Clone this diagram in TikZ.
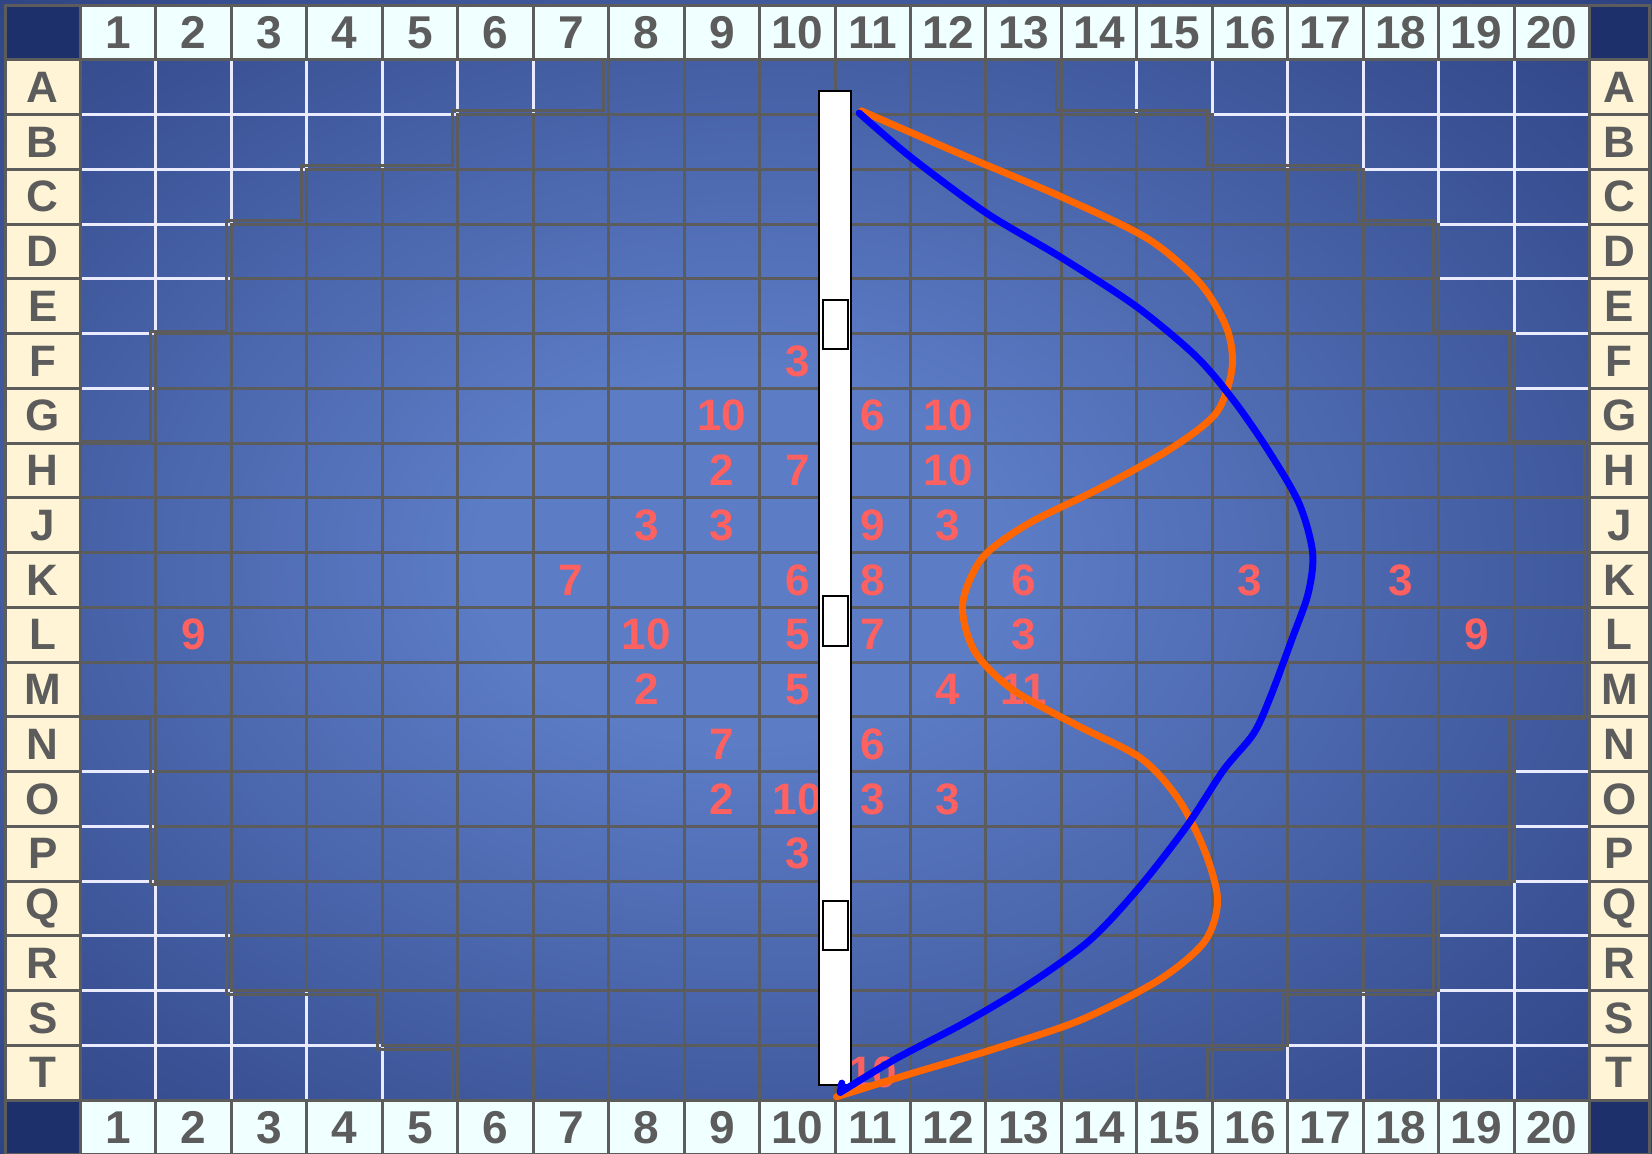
\documentclass[tikz,border=0pt]{standalone}
\usepackage{fontspec}
\setsansfont{Liberation Sans}

\definecolor{linegray}{RGB}{92,92,92}
\definecolor{headcyan}{RGB}{240,255,255}
\definecolor{headcream}{RGB}{255,245,214}
\definecolor{tallyred}{RGB}{255,96,96}
\definecolor{bgin}{RGB}{92,124,198}
\definecolor{bgout}{RGB}{26,42,102}
\definecolor{cornernavy}{RGB}{30,48,108}
\definecolor{pathorange}{RGB}{255,102,0}
\pgfdeclareradialshading{glow}{\pgfpoint{-3bp}{1bp}}{color(0bp)=(bgin); color(8bp)=(bgin); color(47bp)=(bgout); color(50bp)=(bgout)}

\begin{document}
\begin{tikzpicture}[x=37.725pt, y=-27.37pt,
	whitegrid/.style={draw=white!92!blue, line width=1.5pt},
	hullgrid/.style={draw=linegray, line width=1.5pt},
	colhead/.style={draw=linegray, fill=headcyan, line width=1.5pt, minimum width=37.725pt, minimum height=27.37pt, inner sep=0pt, text=linegray, font=\sffamily\bfseries\fontsize{23}{23}\selectfont},
	rowhead/.style={colhead, fill=headcream, font=\sffamily\bfseries\fontsize{22}{22}\selectfont},
	blankcell/.style={draw=linegray, fill=cornernavy, line width=1.5pt},
	tally/.style={text=tallyred, inner sep=0pt, font=\sffamily\bfseries\fontsize{22}{22}\selectfont},
	pole/.style={draw=black, fill=white, line width=1pt},
	trackline/.style={line width=3.5pt, line cap=round, line join=round}]
	\useasboundingbox (-1.067,-1.096) rectangle (20.828,19.967);
	\clip (-1.067,-1.096) rectangle (20.828,19.967);
	\shade[shading=glow] (-1.067,-1.096) rectangle (20.828,19.967);

	\foreach \col in {0,...,20}
		\draw[whitegrid] (\col,0) -- (\col,19);
	\foreach \row in {0,...,19}
		\draw[whitegrid] (0,\row) -- (20,\row);

	\foreach \row/\first/\last in {1/8/13, 2/6/15, 3/4/17, 4/3/18, 5/3/18, 6/2/19, 7/2/19, 8/1/20, 9/1/20, 10/1/20, 11/1/20, 12/1/20, 13/2/19, 14/2/19, 15/2/19, 16/3/18, 17/3/18, 18/5/16, 19/6/15}
		\foreach \col in {\first,...,\last}
			\draw[hullgrid] (\col-1,\row-1) rectangle (\col,\row);
	\begin{scope}[xshift=-2.5pt, shift={(0,9.5)}, yscale=1.01, shift={(0,-9.5)}]
		\draw[hullgrid] (7,0) -| (13,1) -| (15,2) -| (17,3) -| (18,5) -| (19,7) -| (20,12) -| (19,15) -| (18,17) -| (16,18) -| (15,19)
			-| (5,18) -| (4,17) -| (2,15) -| (1,12) -| (0,7) -| (1,5) -| (2,3) -| (3,2) -| (5,1) -| (7,0) -- cycle;
	\end{scope}

	\draw[blankcell] (-1,-1) rectangle (0,0);
	\draw[blankcell] (20,-1) rectangle (20.79,0);
	\draw[blankcell] (-1,19) rectangle (0,20);
	\draw[blankcell] (20,19) rectangle (20.79,20);
	\foreach \col in {1,...,20} {
		\node[colhead] (head\col) at (\col-0.5,-0.5) {\col};
		\node[colhead] (foot\col) at (\col-0.5,19.5) {\col};
	}
	\foreach \lab [count=\row] in {A,B,C,D,E,F,G,H,J,K,L,M,N,O,P,Q,R,S,T} {
		\node[rowhead] (left\lab) at (-0.5,\row-0.5) {\lab};
		\node[rowhead, minimum width=29.8pt] (right\lab) at (20.395,\row-0.5) {\lab};
	}

	\foreach \col/\row/\val [count=\idx] in {10/6/3, 9/7/10, 11/7/6, 12/7/10, 9/8/2, 10/8/7, 12/8/10, 8/9/3, 9/9/3, 11/9/9, 12/9/3,
		7/10/7, 10/10/6, 11/10/8, 13/10/6, 16/10/3, 18/10/3, 2/11/9, 8/11/10, 10/11/5, 11/11/7, 13/11/3, 19/11/9,
		8/12/2, 10/12/5, 12/12/4, 13/12/11, 9/13/7, 11/13/6, 9/14/2, 10/14/10, 11/14/3, 12/14/3, 10/15/3, 11/19/10}
		\node[tally] (n\idx) at (\col-0.5,\row-0.5) {\val};

	\draw[pole] (9.782,0.559) rectangle (10.216,18.723);
	\foreach \y in {4.83,10.25,15.81}
		\draw[pole] (9.844,\y-0.45) rectangle (10.175,\y+0.45);

	\draw[trackline, draw=pathorange] plot[smooth] coordinates {(10.35,0.93) (11.70,1.74) (13.0,2.5) (14.15,3.27) (14.85,4.1) (15.20,4.93) (15.26,5.65) (15.05,6.45) (14.45,7.10) (13.50,7.83) (12.55,8.48) (11.95,9.10) (11.69,9.95) (11.85,10.80) (12.35,11.50) (13.20,12.15) (14.05,12.75) (14.55,13.50) (14.90,14.45) (15.07,15.35) (14.90,16.10) (14.30,16.80) (13.25,17.54) (12.10,18.07) (11.00,18.52) (10.02,18.94)};
	\draw[trackline, draw=blue] plot[smooth] coordinates {(10.32,0.97) (11.0,1.77) (12.0,2.79) (13.0,3.61) (14.0,4.51) (14.79,5.42) (15.30,6.25) (15.75,7.15) (16.15,8.10) (16.33,9.0) (16.27,9.75) (16.05,10.6) (15.78,11.6) (15.55,12.3) (15.15,12.97) (14.66,14.0) (14.01,15.15) (13.36,16.10) (12.53,16.92) (11.70,17.60) (10.80,18.25) (10.07,18.86)} -- (10.09,18.69);
\end{tikzpicture}
\end{document}
